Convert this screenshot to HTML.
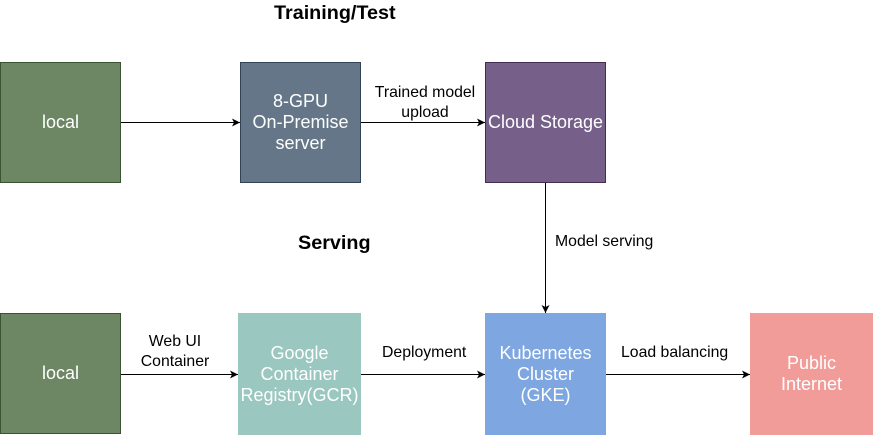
<!DOCTYPE html>
<html><head><style>
body{margin:0;width:874px;height:436px;background:#fff;position:relative;overflow:hidden;font-family:"Liberation Sans",sans-serif}
.b{position:absolute;box-sizing:border-box;display:flex;align-items:center;justify-content:center;text-align:center;color:#fff;font-size:18px;line-height:21px;border:1px solid}
.t{position:absolute;font-size:15.8px;color:#000;text-align:center;line-height:20px;white-space:nowrap}
.h{position:absolute;font-weight:bold;font-size:19.8px;color:#000}
</style></head><body>
<div class="h" style="left:274px;top:2px">Training/Test</div>
<div class="h" style="left:298px;top:232px">Serving</div>
<svg style="position:absolute;left:0;top:0" width="874" height="436">
<defs><marker id="a" markerWidth="10" markerHeight="10" refX="9" refY="5" orient="auto" markerUnits="userSpaceOnUse"><path d="M1,1 L9,5 L1,9 L3,5z" fill="#000"/></marker></defs>
<g stroke="#000" stroke-width="1" fill="none" marker-end="url(#a)">
<line x1="120" y1="122.5" x2="240" y2="122.5"/>
<line x1="360" y1="122.5" x2="485" y2="122.5"/>
<line x1="545.5" y1="182" x2="545.5" y2="313"/>
<line x1="120" y1="374.5" x2="238" y2="374.5"/>
<line x1="360" y1="374.5" x2="485" y2="374.5"/>
<line x1="605" y1="374.5" x2="750" y2="374.5"/>
</g></svg>
<div class="b" style="left:0;top:62px;width:121px;height:121px;background:#6d8764;border-color:#3a5431">local</div>
<div class="b" style="left:240px;top:62px;width:121px;height:121px;background:#647687;border-color:#314354">8-GPU<br>On-Premise<br>server</div>
<div class="b" style="left:485px;top:62px;width:121px;height:121px;background:#76608a;border-color:#432d57">Cloud Storage</div>
<div class="b" style="left:0;top:313px;width:121px;height:121px;background:#6d8764;border-color:#3a5431">local</div>
<div class="b" style="left:238px;top:313px;width:123px;height:122px;background:#9ac7bf;border-color:#9ac7bf">Google<br>Container<br>Registry(GCR)</div>
<div class="b" style="left:485px;top:313px;width:121px;height:122px;background:#7ea6e0;border-color:#7ea6e0">Kubernetes<br>Cluster<br>(GKE)</div>
<div class="b" style="left:750px;top:313px;width:123px;height:122px;background:#f19c99;border-color:#f19c99">Public<br>Internet</div>
<div class="t" style="left:370px;top:83px;width:110px">Trained model<br>upload</div>
<div class="t" style="left:555px;top:232px">Model serving</div>
<div class="t" style="left:135px;top:332px;width:80px">Web UI<br>Container</div>
<div class="t" style="left:382px;top:343px">Deployment</div>
<div class="t" style="left:621px;top:343px">Load balancing</div>
</body></html>
